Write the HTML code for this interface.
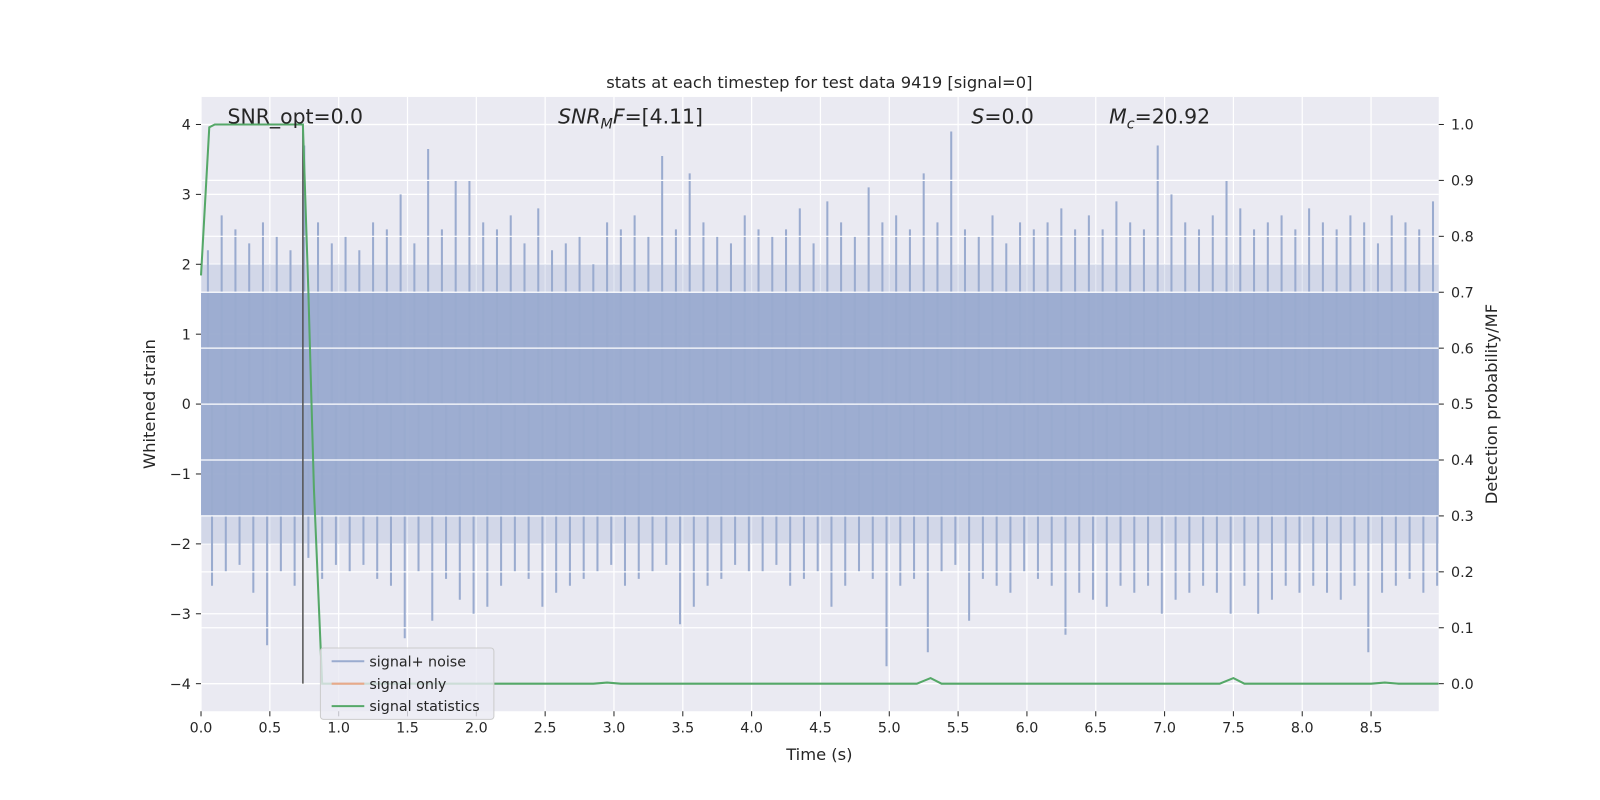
<!DOCTYPE html>
<html><head><meta charset="utf-8">
<style>
html,body{margin:0;padding:0;background:#fff;overflow:hidden;width:1600px;height:800px;}
svg{display:block;}
svg text{font-family:"DejaVu Sans","Liberation Sans",sans-serif;fill:#262626;}
</style></head>
<body>
<svg id="chart" width="1600" height="800" xmlns="http://www.w3.org/2000/svg">
<rect x="0" y="0" width="1600" height="800" fill="#fff"/>
<g transform="scale(1.0204)">
<rect x="197" y="95" width="1213" height="602" fill="#eaeaf2"/>
<g id="grid"></g>
<g id="noise"></g>
<g id="grid2"></g>
<g id="stats"></g>
<g id="axes"></g>
<text x="803" y="86" font-size="16" text-anchor="middle">stats at each timestep for test data 9419 [signal=0]</text>
<text x="223" y="121" font-size="20">SNR_opt=0.0</text>
<text x="547" y="121" font-size="20"><tspan font-style="italic">SNR</tspan><tspan font-style="italic" font-size="14" dy="5">M</tspan><tspan font-style="italic" dy="-5">F</tspan>=[4.11]</text>
<text x="952" y="121" font-size="20"><tspan font-style="italic">S</tspan>=0.0</text>
<text x="1087" y="121" font-size="20"><tspan font-style="italic">M</tspan><tspan font-style="italic" font-size="14" dy="5">c</tspan><tspan dy="-5">=20.92</tspan></text>
<text x="803" y="745" font-size="16" text-anchor="middle">Time (s)</text>
<text transform="translate(152,396) rotate(-90)" font-size="16" text-anchor="middle">Whitened strain</text>
<text transform="translate(1467,396) rotate(-90)" font-size="16" text-anchor="middle">Detection probability/MF</text>
<g>
<rect x="314" y="635" width="170" height="70" rx="3" fill="#eaeaf2" fill-opacity="0.8" stroke="#ccc"/>
<line x1="325" y1="648" x2="357" y2="648" stroke="#9aabcf" stroke-width="2"/>
<text x="362" y="653" font-size="14">signal+ noise</text>
<line x1="325" y1="670" x2="357" y2="670" stroke="#e8a98a" stroke-width="2"/>
<text x="362" y="675" font-size="14">signal only</text>
<line x1="325" y1="692" x2="357" y2="692" stroke="#55a868" stroke-width="2"/>
<text x="362" y="697" font-size="14">signal statistics</text>
</g>
</g>
</svg>
<script>
const spikeUp=[2.2,2.7,2.5,2.3,2.6,2.4,2.2,3.7,2.6,2.3,
2.4,2.2,2.6,2.5,3.0,2.3,3.65,2.5,3.2,3.2,
2.6,2.5,2.7,2.3,2.8,2.2,2.3,2.4,2.0,2.6,
2.5,2.7,2.4,3.55,2.5,3.3,2.6,2.4,2.3,2.7,
2.5,2.4,2.5,2.8,2.3,2.9,2.6,2.4,3.1,2.6,
2.7,2.5,3.3,2.6,3.9,2.5,2.4,2.7,2.3,2.6,
2.5,2.6,2.8,2.5,2.7,2.5,2.9,2.6,2.5,3.7,
3.0,2.6,2.5,2.7,3.2,2.8,2.5,2.6,2.7,2.5,
2.8,2.6,2.5,2.7,2.6,2.3,2.7,2.6,2.5,2.9];
const spikeDown=[-2.6,-2.4,-2.3,-2.7,-3.45,-2.4,-2.6,-2.2,-2.5,-2.3,
-2.4,-2.3,-2.5,-2.6,-3.35,-2.4,-3.1,-2.5,-2.8,-3.0,
-2.9,-2.6,-2.4,-2.5,-2.9,-2.7,-2.6,-2.5,-2.4,-2.3,
-2.6,-2.5,-2.4,-2.3,-3.15,-2.9,-2.6,-2.5,-2.3,-2.4,
-2.4,-2.3,-2.6,-2.5,-2.4,-2.9,-2.6,-2.4,-2.5,-3.75,
-2.6,-2.5,-3.55,-2.4,-2.3,-3.1,-2.5,-2.6,-2.7,-2.4,
-2.5,-2.6,-3.3,-2.7,-2.8,-2.9,-2.6,-2.7,-2.6,-3.0,
-2.8,-2.7,-2.6,-2.7,-3.0,-2.6,-3.0,-2.8,-2.6,-2.7,
-2.6,-2.7,-2.8,-2.6,-3.55,-2.7,-2.6,-2.5,-2.7,-2.6];
const statT=[0,0.06,0.1,0.74,0.78,0.82,0.88,2.85,2.95,3.05,5.2,5.3,5.38,7.4,7.5,7.58,8.5,8.6,8.7,8.99];
const statV=[0.73,0.995,1,1,0.7,0.35,0,0,0.002,0,0,0.01,0,0,0.01,0,0,0.002,0,0];
const xTicks=[0,0.5,1,1.5,2,2.5,3,3.5,4,4.5,5,5.5,6,6.5,7,7.5,8,8.5];
const yTicks=[-4,-3,-2,-1,0,1,2,3,4];
const rTicks=[0,0.1,0.2,0.3,0.4,0.5,0.6,0.7,0.8,0.9,1.0];
const NS="http://www.w3.org/2000/svg";
const X=t=>197+t*134.9, Y=v=>396-v*68.5, R=p=>670-p*548;
function mk(tag,attrs,parent){const e=document.createElementNS(NS,tag);for(const k in attrs)e.setAttribute(k,attrs[k]);document.getElementById(parent).appendChild(e);return e;}
yTicks.forEach(v=>{const l=mk('line',{x1:197,x2:1410,y1:Y(v),y2:Y(v),stroke:'#fff','stroke-width':1.2},'grid');


const k=mk('line',{x1:192,x2:197,y1:Y(v),y2:Y(v),stroke:'#262626','stroke-width':1},'axes');


const t=mk('text',{x:187,y:Y(v)+5,'font-size':14,'text-anchor':'end'},'axes');t.textContent=(v<0?'\u2212'+(-v):v);

});
rTicks.forEach(v=>{const l=mk('line',{x1:197,x2:1410,y1:R(v),y2:R(v),stroke:'#fff','stroke-width':1.2},'grid2');


const k=mk('line',{x1:1410,x2:1415,y1:R(v),y2:R(v),stroke:'#262626','stroke-width':1},'axes');


const t=mk('text',{x:1422,y:R(v)+5,'font-size':14},'axes');t.textContent=v.toFixed(1);

});
xTicks.forEach(v=>{const l=mk('line',{x1:X(v),x2:X(v),y1:95,y2:697,stroke:'#fff','stroke-width':1.2},'grid');


const k=mk('line',{x1:X(v),x2:X(v),y1:697,y2:702,stroke:'#262626','stroke-width':1},'axes');


const t=mk('text',{x:X(v),y:718,'font-size':14,'text-anchor':'middle'},'axes');t.textContent=v.toFixed(1);

});
let b=mk('rect',{x:197,width:1213,y:Y(1.6),height:Y(-1.6)-Y(1.6),fill:'#9aabcf',opacity:0.95},'noise');


b=mk('rect',{x:197,width:1213,y:Y(2.0),height:Y(-2.0)-Y(2.0),fill:'#9aabcf',opacity:0.3},'noise');


spikeUp.forEach((v,i)=>{const t=0.05+i*0.1;
const l=mk('line',{x1:X(t),x2:X(t),y1:Y(0),y2:Y(v),stroke:'#9aabcf','stroke-width':2},'noise');

});
spikeDown.forEach((v,i)=>{const t=0.05+i*0.1+0.03;
const l=mk('line',{x1:X(t),x2:X(t),y1:Y(0),y2:Y(v),stroke:'#9aabcf','stroke-width':2},'noise');

});
const vl=mk('line',{x1:X(0.74),x2:X(0.74),y1:Y(4),y2:Y(-4),stroke:'#555','stroke-width':1.5},'stats');


const p=mk('polyline',{points:statT.map((t,i)=>X(t)+','+R(statV[i])).join(' '),fill:'none',stroke:'#55a868','stroke-width':2},'stats');


</script>
</body></html>
